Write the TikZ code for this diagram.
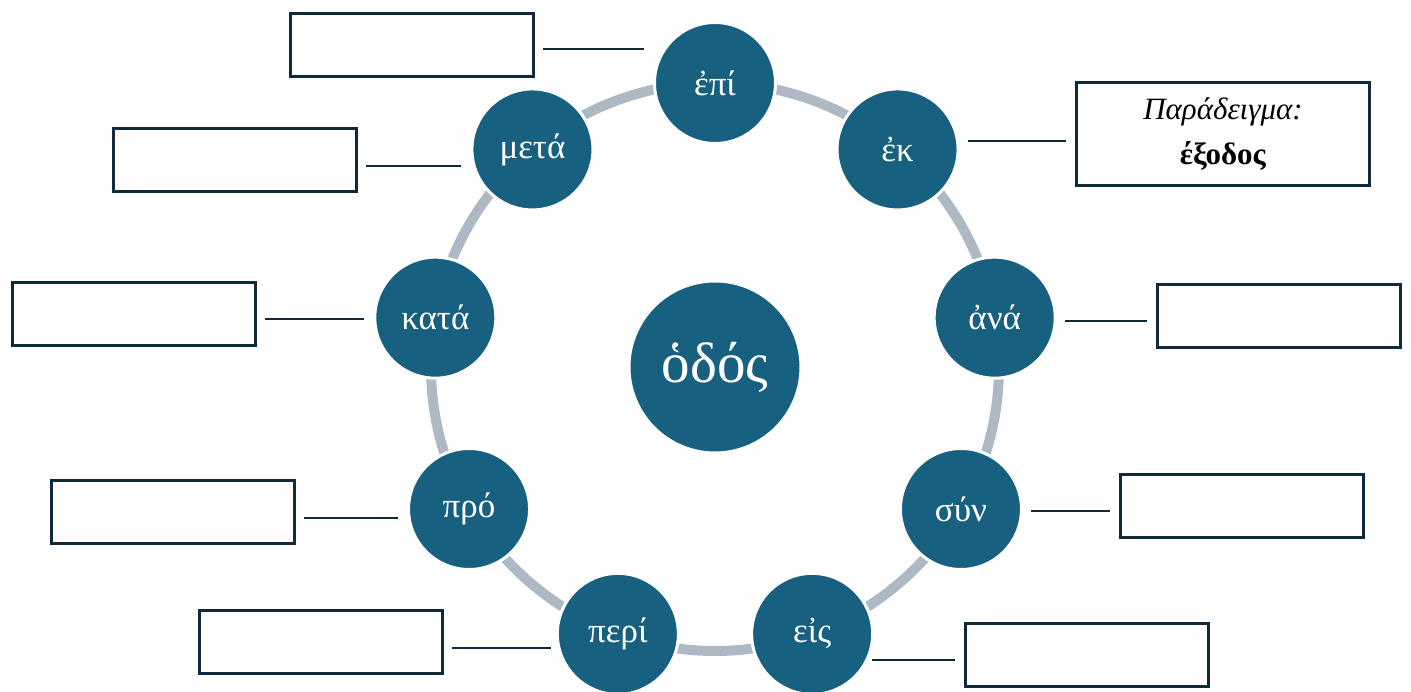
\documentclass[tikz,border=0pt]{standalone}
\usepackage{fontspec}
\setmainfont{Liberation Serif}
\usepackage{xcolor}
\usepackage{tikz}
\usetikzlibrary{positioning,calc}

\definecolor{prepblue}{HTML}{17607F}
\definecolor{ringgray}{HTML}{ADB9C5}
\definecolor{boxnavy}{HTML}{0F2B3B}

\begin{document}
\begin{tikzpicture}[
    x=1pt, y=1pt,
    hub/.style={circle, fill=prepblue, draw=white, line width=3pt, minimum size=172pt, inner sep=0pt, text=white, font=\fontsize{57}{64}\selectfont},
    prep/.style={circle, fill=prepblue, draw=white, line width=3pt, minimum size=121pt, inner sep=0pt, text=white, font=\fontsize{35}{40}\selectfont},
    answer/.style={rectangle, draw=boxnavy, line width=2.6pt, fill=white, minimum width=243pt, minimum height=63pt},
    example/.style={answer, minimum width=293pt, minimum height=103pt, align=center, font=\fontsize{31}{45}\selectfont},
    link/.style={draw=boxnavy, line width=2.8pt, shorten <=8pt, shorten >=9pt}
]
    \useasboundingbox (-715,-325) rectangle (696,367);

    % Ring
    \coordinate (mid) at (0,0);
    \draw[ringgray, line width=10pt] (mid) circle [radius=284];

    % Centre
    \node[hub] (hodos) at (mid) {ὁδός};

    % Prepositions
    \node[prep] (epi) at (90:284) {ἐπί};
    \node[prep] (ek) at (50:284) {ἐκ};
    \node[prep] (ana) at (10:284) {ἀνά};
    \node[prep] (syn) at (-30:284) {σύν};
    \node[prep] (eis) at (-70:284) {εἰς};
    \node[prep] (peri) at (-110:284) {περί};
    \node[prep] (pro) at (-150:284) {πρό};
    \node[prep] (kata) at (170:284) {κατά};
    \node[prep] (meta) at (130:284) {μετά};

    % Answer boxes
    \node[answer] (epibox) at (-303,322) {};
    \node[answer] (metabox) at (-480,207) {};
    \node[answer] (katabox) at (-581,53) {};
    \node[answer] (probox) at (-542,-145) {};
    \node[answer] (peribox) at (-394,-275) {};
    \node[example] (ekbox) at (508,233) {\textit{Παράδειγμα:}\\\textbf{έξοδος}};
    \node[answer] (anabox) at (564,51) {};
    \node[answer] (synbox) at (527,-139) {};
    \node[answer] (eisbox) at (372,-288) {};

    % Links
    \draw[link] ([yshift=-4pt]epibox.east) -- ([yshift=-4pt]epibox.east -| epi.west);
    \draw[link] ([yshift=-6pt]metabox.east) -- ([yshift=-6pt]metabox.east -| meta.west);
    \draw[link] ([yshift=-5pt]katabox.east) -- ([yshift=-5pt]katabox.east -| kata.west);
    \draw[link] ([yshift=-6pt]probox.east) -- ([yshift=-6pt]probox.east -| pro.west);
    \draw[link, shorten >=5pt] ([yshift=-6pt]peribox.east) -- ([yshift=-6pt]peribox.east -| peri.west);
    \draw[link] ([yshift=-7pt]ekbox.west -| ek.east) -- ([yshift=-7pt]ekbox.west);
    \draw[link] ([yshift=-5pt]anabox.west -| ana.east) -- ([yshift=-5pt]anabox.west);
    \draw[link] ([yshift=-5pt]synbox.west -| syn.east) -- ([yshift=-5pt]synbox.west);
    \draw[link, shorten <=-2pt] ([yshift=-5pt]eisbox.west -| eis.east) -- ([yshift=-5pt]eisbox.west);
\end{tikzpicture}
\end{document}
